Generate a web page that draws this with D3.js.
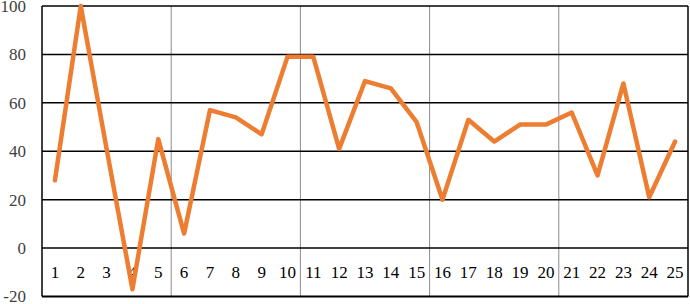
<!DOCTYPE html>
<html><head><meta charset="utf-8">
<script src="https://cdn.jsdelivr.net/npm/d3@7"></script>
<style>body{margin:0;background:#fff}svg{display:block}</style>
</head><body>
<svg id="c" width="690" height="304"></svg>
<script>
const categories = ["1","2","3","4","5","6","7","8","9","10","11","12","13","14","15","16","17","18","19","20","21","22","23","24","25"];
const values = [28,100,41,-17,45,6,57,54,47,79,79,41,69,66,52,20,53,44,51,51,56,30,68,21,44];
const yTicks = [-20,0,20,40,60,80,100];
const vGroups = [5,10,15,20];
const FONT = '"Liberation Serif", "Times New Roman", serif';

const svg = d3.select("#c");
const L=42, R=688, T=6, B=296.5;
const x = d3.scaleBand().domain(categories).range([L,R]);
const y = d3.scaleLinear().domain([-20,100]).range([B,T]);

// vertical gridlines between groups
svg.append("g").selectAll("line").data(vGroups).join("line")
  .attr("x1",d=>x(categories[d])).attr("x2",d=>x(categories[d]))
  .attr("y1",T).attr("y2",B).attr("stroke","#8c8c8c").attr("stroke-width",1);

// horizontal gridlines
svg.append("g").selectAll("line").data(yTicks).join("line")
  .attr("x1",L).attr("x2",R).attr("y1",d=>y(d)).attr("y2",d=>y(d))
  .attr("stroke","#000").attr("stroke-width",d=>d===-20?2:1.5);

// border
svg.append("line").attr("x1",L).attr("x2",L).attr("y1",T).attr("y2",B).attr("stroke","#000").attr("stroke-width",1.5);
svg.append("line").attr("x1",R).attr("x2",R).attr("y1",T).attr("y2",B).attr("stroke","#000").attr("stroke-width",1.5);

// y labels
svg.append("g").selectAll("text").data(yTicks).join("text")
  .attr("x",26).attr("y",d=>y(d)).attr("dy","0.35em").attr("text-anchor","end")
  .style("font-family",FONT).style("font-size","17px").attr("fill","#404040")
  .text(d=>d);

// x labels
svg.append("g").selectAll("text").data(categories).join("text")
  .attr("x",d=>x(d)+x.bandwidth()/2).attr("y",(y(0)+y(-20))/2).attr("dy","0.35em").attr("text-anchor","middle")
  .style("font-family",FONT).style("font-size","17px").attr("fill","#000")
  .text(d=>d);

// line
const line = d3.line().x((d,i)=>x(categories[i])+x.bandwidth()/2).y(d=>y(d));
svg.append("path").datum(values).attr("d",line).attr("fill","none")
  .attr("stroke","#ED7D31").attr("stroke-width",4.5).attr("stroke-linejoin","round").attr("stroke-linecap","round");
</script>
</body></html>
